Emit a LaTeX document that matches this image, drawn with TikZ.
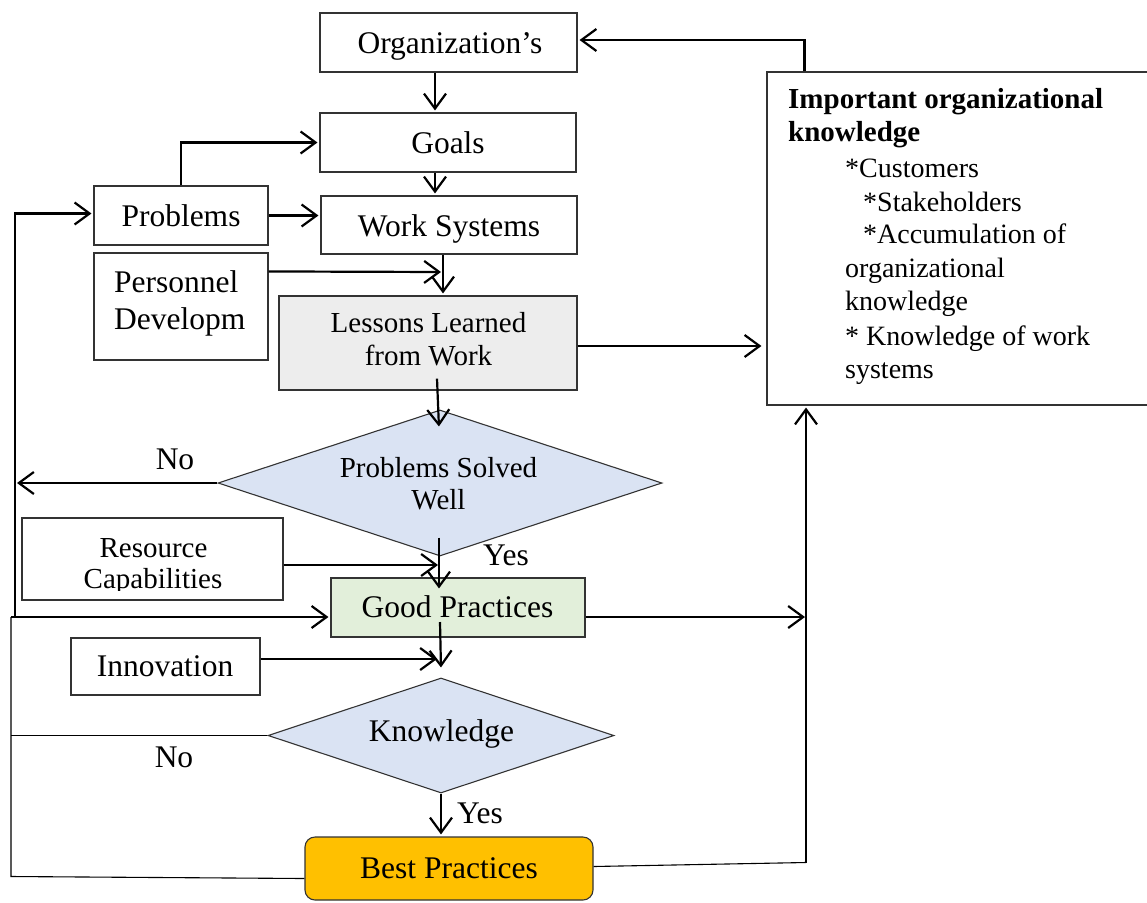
\documentclass[tikz,border=0pt]{standalone}
\usepackage{fontspec}
\setmainfont{Liberation Serif}
\usetikzlibrary{arrows.meta,shapes.geometric}
\definecolor{lgray}{HTML}{EDEDED}
\definecolor{dblue}{HTML}{DAE3F3}
\definecolor{lgreen}{HTML}{E2EFDA}
\definecolor{gold}{HTML}{FFC000}
\newcommand\mainsz{\fontsize{31.5}{38}\selectfont}
\newcommand\smallsz{\fontsize{29}{34}\selectfont}
\newcommand\kbsz{\fontsize{28}{33}\selectfont}
\newcommand\kbtsz{\fontsize{29}{33}\selectfont}
\begin{document}
\begin{tikzpicture}[x=1pt,y=-1pt,
  box/.style={draw=black!80, line width=1.1pt, inner sep=0pt, rectangle},
  dia/.style={draw=black!80, line width=1.1pt, inner sep=0pt, diamond, fill=dblue},
  txt/.style={inner sep=0pt, anchor=base, font=\mainsz},
  stxt/.style={inner sep=0pt, anchor=base, font=\smallsz},
  ktxt/.style={inner sep=0pt, anchor=base west, font=\kbsz},
  arr/.style={line width=2.2pt, shorten >=2pt, -{Straight Barb[length=15pt,width=22pt,line width=2.2pt]}},
  thinline/.style={line width=1.1pt}]
\useasboundingbox (0,0) rectangle (1147,902);
% boxes
\node[box, minimum width=257pt, minimum height=59pt] (org) at (448.5,42.5) {};
\node[box, minimum width=256pt, minimum height=59pt] (goals) at (448,142.5) {};
\node[box, minimum width=174pt, minimum height=59pt] (problems) at (181,215.5) {};
\node[box, minimum width=256pt, minimum height=58pt] (work) at (449,225) {};
\node[box, minimum width=174pt, minimum height=107pt] (personnel) at (181,306.5) {};
\node[box, fill=lgray, minimum width=298pt, minimum height=94pt] (lessons) at (428,343) {};
\node[box, minimum width=383pt, minimum height=333pt] (kb) at (958.5,238.5) {};
\node[dia, minimum width=444pt, minimum height=146pt] (d1) at (440,483) {};
\node[box, minimum width=261pt, minimum height=82pt] (resource) at (152.5,559) {};
\node[box, fill=lgreen, minimum width=254pt, minimum height=59pt] (good) at (458,607.5) {};
\node[box, minimum width=189pt, minimum height=57pt] (innov) at (165.5,666.5) {};
\node[dia, minimum width=346pt, minimum height=115pt] (d2) at (441,735.5) {};
\node[box, fill=gold, rounded corners=10pt, minimum width=288pt, minimum height=63pt] (best) at (449,868.5) {};
% texts
\node[txt] (torg) at (450,53) {Organization’s};
\node[txt] (tgoals) at (448,153) {Goals};
\node[txt] (tprob) at (181,226) {Problems};
\node[txt] (twork) at (449,236) {Work Systems};
\node[txt, anchor=base west] (tpers1) at (114,292) {Personnel};
\node[txt, anchor=base west] (tpers2) at (114,329) {Developm};
\node[stxt] (tles1) at (428.5,332) {Lessons Learned};
\node[stxt] (tles2) at (428.5,365) {from Work};
\node[stxt] (td1a) at (438.5,477) {Problems Solved};
\node[stxt] (td1b) at (438.5,509) {Well};
\begin{scope}
\clip (0,0) rectangle (1147,590);
\node[stxt] (tres1) at (153.5,557) {Resource};
\node[stxt] (tres2) at (153,588) {Capabilities};
\end{scope}
\node[txt] (tgood) at (457.5,617) {Good Practices};
\node[txt] (tinnov) at (165,676) {Innovation};
\node[txt] (td2) at (441.5,741) {Knowledge};
\node[txt] (tbest) at (449,878) {Best Practices};
\node[txt] (no1) at (175,469) {No};
\node[txt] (no2) at (174,767) {No};
\node[txt] (yes1) at (506,565) {Yes};
\node[txt] (yes2) at (480,823) {Yes};
% knowledge box text
\node[ktxt, font=\kbtsz\bfseries] (k1) at (788,108) {Important organizational};
\node[ktxt, font=\kbtsz\bfseries] (k2) at (788,141) {knowledge};
\node[ktxt] (k3) at (845,177) {*Customers};
\node[ktxt] (k4) at (863,211) {*Stakeholders};
\node[ktxt] (k5) at (863,243) {*Accumulation of};
\node[ktxt] (k6) at (845,277) {organizational};
\node[ktxt] (k7) at (845,310) {knowledge};
\node[ktxt] (k8) at (845,345) {* Knowledge of work};
\node[ktxt] (k9) at (845,378) {systems};
% rails
\coordinate (railA) at (15,0);
\coordinate (railB) at (11,0);
\coordinate (railC) at (806,0);
\coordinate (gpw) at ([yshift=-9.5pt]good.west);
% connectors
\draw[arr] ([xshift=38pt]kb.north west) |- ([yshift=2.5pt]org.east);
\draw[arr] ([xshift=-13.5pt]org.south) -- ([xshift=-13pt]goals.north);
\draw[arr] (problems.north) |- (goals.west);
\draw[arr] ([xshift=-13pt]goals.south) -- ([xshift=-14pt]work.north);
\draw[arr] (problems.east) -- (problems.east -| work.west);
\coordinate (p6) at (443,272);
\draw[arr] ([yshift=-19pt]personnel.north east) -- (p6);
\draw[arr] ([xshift=-6pt]work.south) -- ([xshift=15pt]lessons.north);
\draw[arr] ([yshift=-3pt]lessons.east) -- ([yshift=-3pt,xshift=-3pt]lessons.east -| kb.west);
\draw[arr] ([xshift=9pt,yshift=12pt]lessons.south) -- ([xshift=-1pt,yshift=-19pt]d1.north);
\draw[arr] (d1.west) -- (d1.west -| railA);
\draw[arr] ([xshift=-1pt,yshift=19pt]d1.south) -- ([xshift=-1pt,yshift=-13pt]good.north -| d1.south);
\draw[arr] ([yshift=-6pt]resource.east) -- ([yshift=-6pt,xshift=0pt]resource.east -| d1.south);
\draw[arr] ([xshift=-18pt,yshift=-14.5pt]good.center) -- ([yshift=8pt]d2.north);
\draw[arr] ([yshift=7.5pt]innov.east) -- ([yshift=7.5pt,xshift=-2pt]innov.east -| d2.north);
\draw[arr] ([yshift=-9.5pt]good.east) -- ([xshift=1pt]gpw -| railC);
\draw[arr] (gpw -| railB) -- (gpw);
\draw[thinline] (d2.west) -- (d2.west -| railB);
\draw[arr] (d2.south) -- (d2.south |- best.north);
\draw[thinline] ([yshift=-10pt]best.west) -- ([yshift=-8pt]best.west -| railB) -- (gpw -| railB);
\draw[line width=2.2pt] (gpw -| railB) -- (gpw -| railA);
\draw[arr] (railA |- gpw) |- ([yshift=2pt]problems.west);
\draw[thinline] ([yshift=2pt]best.east) -- ([yshift=6pt]best.east -| railC);
\draw[arr] ([yshift=6pt]best.east -| railC) -- (railC |- kb.south);
\end{tikzpicture}
\end{document}
